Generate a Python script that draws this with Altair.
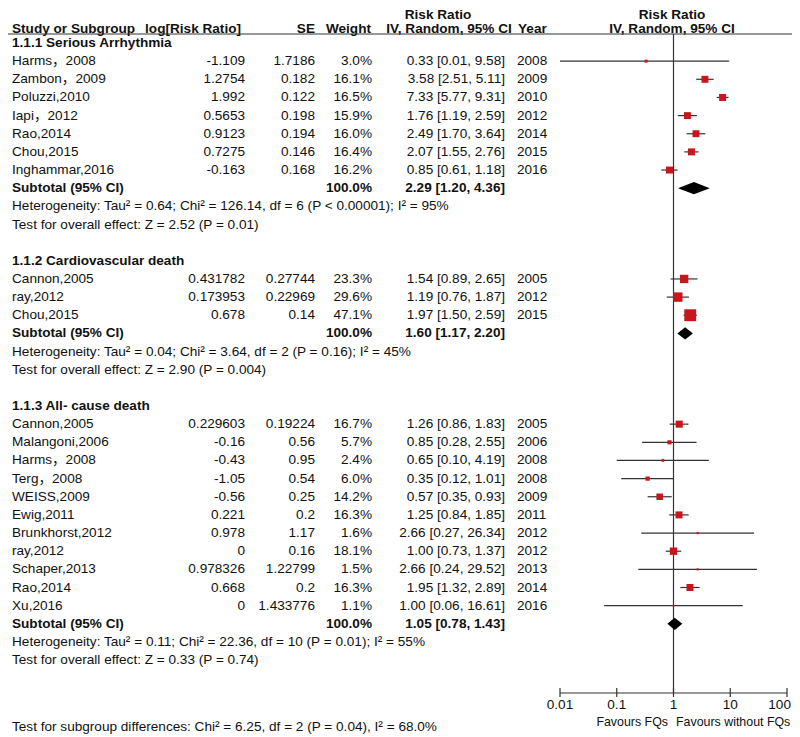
import altair as alt
import pandas as pd

# ---------------- data ----------------
g1_title = "1.1.1 Serious Arrhythmia"
g1_study = ["Harms，2008", "Zambon，2009", "Poluzzi,2010", "Iapi，2012", "Rao,2014", "Chou,2015", "Inghammar,2016"]
g1_logrr = ["-1.109", "1.2754", "1.992", "0.5653", "0.9123", "0.7275", "-0.163"]
g1_se = ["1.7186", "0.182", "0.122", "0.198", "0.194", "0.146", "0.168"]
g1_w = [3.0, 16.1, 16.5, 15.9, 16.0, 16.4, 16.2]
g1_rr = [0.33, 3.58, 7.33, 1.76, 2.49, 2.07, 0.85]
g1_lo = [0.01, 2.51, 5.77, 1.19, 1.70, 1.55, 0.61]
g1_hi = [9.58, 5.11, 9.31, 2.59, 3.64, 2.76, 1.18]
g1_year = [2008, 2009, 2010, 2012, 2014, 2015, 2016]
g1_sub = [2.29, 1.20, 4.36]
g1_het = "Heterogeneity: Tau² = 0.64; Chi² = 126.14, df = 6 (P < 0.00001); I² = 95%"
g1_test = "Test for overall effect: Z = 2.52 (P = 0.01)"

g2_title = "1.1.2 Cardiovascular death"
g2_study = ["Cannon,2005", "ray,2012", "Chou,2015"]
g2_logrr = ["0.431782", "0.173953", "0.678"]
g2_se = ["0.27744", "0.22969", "0.14"]
g2_w = [23.3, 29.6, 47.1]
g2_rr = [1.54, 1.19, 1.97]
g2_lo = [0.89, 0.76, 1.50]
g2_hi = [2.65, 1.87, 2.59]
g2_year = [2005, 2012, 2015]
g2_sub = [1.60, 1.17, 2.20]
g2_het = "Heterogeneity: Tau² = 0.04; Chi² = 3.64, df = 2 (P = 0.16); I² = 45%"
g2_test = "Test for overall effect: Z = 2.90 (P = 0.004)"

g3_title = "1.1.3 All- cause death"
g3_study = ["Cannon,2005", "Malangoni,2006", "Harms，2008", "Terg，2008", "WEISS,2009", "Ewig,2011",
            "Brunkhorst,2012", "ray,2012", "Schaper,2013", "Rao,2014", "Xu,2016"]
g3_logrr = ["0.229603", "-0.16", "-0.43", "-1.05", "-0.56", "0.221", "0.978", "0", "0.978326", "0.668", "0"]
g3_se = ["0.19224", "0.56", "0.95", "0.54", "0.25", "0.2", "1.17", "0.16", "1.22799", "0.2", "1.433776"]
g3_w = [16.7, 5.7, 2.4, 6.0, 14.2, 16.3, 1.6, 18.1, 1.5, 16.3, 1.1]
g3_rr = [1.26, 0.85, 0.65, 0.35, 0.57, 1.25, 2.66, 1.00, 2.66, 1.95, 1.00]
g3_lo = [0.86, 0.28, 0.10, 0.12, 0.35, 0.84, 0.27, 0.73, 0.24, 1.32, 0.06]
g3_hi = [1.83, 2.55, 4.19, 1.01, 0.93, 1.85, 26.34, 1.37, 29.52, 2.89, 16.61]
g3_year = [2005, 2006, 2008, 2008, 2009, 2011, 2012, 2012, 2013, 2014, 2016]
g3_sub = [1.05, 0.78, 1.43]
g3_het = "Heterogeneity: Tau² = 0.11; Chi² = 22.36, df = 10 (P = 0.01); I² = 55%"
g3_test = "Test for overall effect: Z = 0.33 (P = 0.74)"

overall_test = "Test for subgroup differences: Chi² = 6.25, df = 2 (P = 0.04), I² = 68.0%"

tick_values = [0.01, 0.1, 1, 10, 100]
tick_labels = ["0.01", "0.1", "1", "10", "100"]
null_value = [1]
favours_left = "Favours FQs"
favours_right = "Favours without FQs"

# ---------------- assemble tables ----------------
groups = [
    (0, g1_title, g1_study, g1_logrr, g1_se, g1_w, g1_rr, g1_lo, g1_hi, g1_year, g1_sub, g1_het, g1_test),
    (12, g2_title, g2_study, g2_logrr, g2_se, g2_w, g2_rr, g2_lo, g2_hi, g2_year, g2_sub, g2_het, g2_test),
    (20, g3_title, g3_study, g3_logrr, g3_se, g3_w, g3_rr, g3_lo, g3_hi, g3_year, g3_sub, g3_het, g3_test),
]

study_rows, bold_left, plain_left, sub_rows, diamonds = [], [], [], [], []
for start, title, st, lg, se, w, rr, lo, hi, yr, sub, het, test in groups:
    bold_left.append({"row": start, "t": title})
    for i in range(len(st)):
        study_rows.append({
            "row": start + 1 + i, "study": st[i], "logrr": lg[i], "se": se[i],
            "wt": f"{w[i]:.1f}%", "w": w[i], "rr": rr[i], "lo": lo[i], "hi": hi[i],
            "ci": f"{rr[i]:.2f} [{lo[i]:.2f}, {hi[i]:.2f}]", "year": str(yr[i]),
        })
    r = start + 1 + len(st)
    bold_left.append({"row": r, "t": "Subtotal (95% CI)"})
    sub_rows.append({"row": r, "wt": "100.0%", "ci": f"{sub[0]:.2f} [{sub[1]:.2f}, {sub[2]:.2f}]"})
    plain_left.append({"row": r + 1, "t": het})
    plain_left.append({"row": r + 2, "t": test})
    for xv, dy in [(sub[1], 0.0), (sub[0], 0.34), (sub[2], 0.0)]:
        diamonds.append({"g": title, "x": xv, "y": r - dy, "y2": r + dy})
plain_left.append({"row": 37.7, "t": overall_test})

df_s = pd.DataFrame(study_rows)
df_bl = pd.DataFrame(bold_left)
df_pl = pd.DataFrame(plain_left)
df_sub = pd.DataFrame(sub_rows)
df_d = pd.DataFrame(diamonds)
df_t = pd.DataFrame({"v": tick_values, "lab": tick_labels})
df_t_in = df_t.iloc[:-1]
df_t_last = df_t.iloc[-1:]
df_null = pd.DataFrame({"v": null_value})
df_axis = pd.DataFrame({"a": [tick_values[0]], "b": [tick_values[-1]]})

# ---------------- chart ----------------
W, H = 784, 729
FONT = "Liberation Sans, Noto Sans CJK SC"
FS = 13.6
TXT = "#111111"
LINE = "#333333"

ysc = alt.Scale(domain=[0, 38], range=[35, 35 + 38 * 18.15])
xsc = alt.Scale(type="log", domain=[0.01, 100], range=[552, 779])
Y = alt.Y("row:Q", scale=ysc, axis=None)


def col(df, field, x, align, bold=False):
    return alt.Chart(df).mark_text(
        align=align, baseline="middle", font=FONT, fontSize=FS,
        fontWeight="bold" if bold else "normal", color=TXT,
    ).encode(x=alt.value(x), y=Y, text=f"{field}:N")


def fixed(t, x, y, align="center", bold=True, size=FS):
    return alt.Chart(pd.DataFrame({"t": [t]})).mark_text(
        align=align, baseline="middle", font=FONT, fontSize=size,
        fontWeight="bold" if bold else "normal", color=TXT,
    ).encode(x=alt.value(x), y=alt.value(y), text="t:N")


HY1, HY2, ULY = 7, 21, 26

layers = [
    # headers
    fixed("Study or Subgroup", 4, HY2, "left"),
    fixed("log[Risk Ratio]", 233, HY2, "right"),
    fixed("SE", 307, HY2, "right"),
    fixed("Weight", 363, HY2, "right"),
    fixed("Risk Ratio", 430, HY1),
    fixed("IV, Random, 95% CI", 441, HY2),
    fixed("Year", 510, HY2, "left"),
    fixed("Risk Ratio", 664, HY1),
    fixed("IV, Random, 95% CI", 664, HY2),
    alt.Chart(pd.DataFrame({"a": [0]})).mark_rule(color=LINE, strokeWidth=1.2).encode(
        x=alt.value(0), x2=alt.value(W), y=alt.value(ULY)),
    # left text columns
    col(df_bl, "t", 4, "left", True),
    col(df_pl, "t", 4, "left"),
    col(df_s, "study", 4, "left"),
    col(df_s, "logrr", 237, "right"),
    col(df_s, "se", 307, "right"),
    col(df_s, "wt", 364, "right"),
    col(df_s, "ci", 497, "right"),
    col(df_s, "year", 509, "left"),
    col(df_sub, "wt", 364, "right", True),
    col(df_sub, "ci", 497, "right", True),
    # null line
    alt.Chart(df_null).mark_rule(color=LINE, strokeWidth=1.2).encode(
        x=alt.X("v:Q", scale=xsc, axis=None), y=alt.value(ULY), y2=alt.value(685)),
    # confidence intervals
    alt.Chart(df_s).mark_rule(color=LINE, strokeWidth=1.2).encode(
        x=alt.X("lo:Q", scale=xsc, axis=None), x2="hi:Q", y=Y),
    alt.Chart(df_s).mark_square(filled=True, color="#c8161d", opacity=1).encode(
        x=alt.X("rr:Q", scale=xsc, axis=None), y=Y,
        size=alt.Size("w:Q", scale=alt.Scale(domain=[0, 50], range=[0, 150]), legend=None)),
    alt.Chart(df_d).mark_area(color="black", orient="vertical").encode(
        x=alt.X("x:Q", scale=xsc, axis=None),
        y=alt.Y("y:Q", scale=ysc, axis=None), y2="y2:Q", detail="g:N"),
    # axis
    alt.Chart(df_axis).mark_rule(color=LINE, strokeWidth=1.2).encode(
        x=alt.X("a:Q", scale=xsc, axis=None), x2="b:Q", y=alt.value(685)),
    alt.Chart(df_t).mark_rule(color=LINE, strokeWidth=1.2).encode(
        x=alt.X("v:Q", scale=xsc, axis=None), y=alt.value(680), y2=alt.value(689)),
    alt.Chart(df_t_in).mark_text(baseline="middle", font=FONT, fontSize=FS, color=TXT).encode(
        x=alt.X("v:Q", scale=xsc, axis=None), y=alt.value(697), text="lab:N"),
    alt.Chart(df_t_last).mark_text(baseline="middle", align="right", dx=4, font=FONT,
                                   fontSize=FS, color=TXT).encode(
        x=alt.X("v:Q", scale=xsc, axis=None), y=alt.value(697), text="lab:N"),
    fixed(favours_left, 660, 714, "right", bold=False, size=12.4),
    fixed(favours_right, 668, 714, "left", bold=False, size=12.4),
]

chart = alt.layer(*layers).properties(
    width=W, height=H, padding=0, autosize=alt.AutoSizeParams(type="none"),
).configure_view(stroke=None)

chart.save("out.html", embed_options={"renderer": "svg", "actions": False})
